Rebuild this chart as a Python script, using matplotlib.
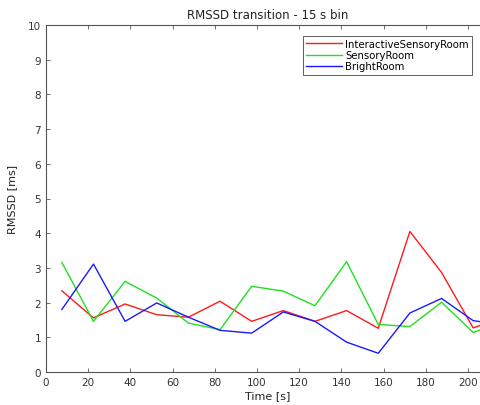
import matplotlib
matplotlib.use("Agg")
import matplotlib.pyplot as plt

time_s = [7.5, 22.5, 37.5, 52.5, 67.5, 82.5, 97.5, 112.5, 127.5, 142.5, 157.5, 172.5, 187.5, 202.5, 217.5]
interactive = [2.34, 1.56, 1.96, 1.65, 1.58, 2.04, 1.46, 1.77, 1.46, 1.77, 1.26, 4.05, 2.87, 1.27, 1.6]
sensory = [3.16, 1.46, 2.61, 2.13, 1.41, 1.22, 2.47, 2.33, 1.91, 3.18, 1.37, 1.31, 2.01, 1.14, 1.45]
bright = [1.80, 3.11, 1.46, 1.99, 1.58, 1.20, 1.12, 1.73, 1.46, 0.86, 0.54, 1.70, 2.12, 1.48, 1.35]
labels = ["InteractiveSensoryRoom", "SensoryRoom", "BrightRoom"]
colors = ["#ff1a1a", "#20e020", "#1a1aff"]

plt.rcParams['font.family'] = ['DejaVu Sans']
fig = plt.figure(figsize=(4.81, 4.06), dpi=100)
W, H = 481, 406
x0, x1 = 46, 489
y0, y1 = 373, 26
ax = fig.add_axes([x0 / W, (H - y0) / H, (x1 - x0) / W, (y0 - y1) / H])

for ys, lab, c in zip([interactive, sensory, bright], labels, colors):
    ax.plot(time_s, ys, color=c, lw=1.0, label=lab)

ax.set_xlim(0, 210)
ax.set_ylim(0, 10)
ax.set_xticks(range(0, 201, 20))
ax.set_yticks(range(0, 11))
axc = "#555555"
for s in ax.spines.values():
    s.set_color(axc)
    s.set_linewidth(0.8)
ax.tick_params(direction='in', top=True, right=True, length=3, width=0.6,
               colors=axc, labelsize=7.5, labelcolor="#333333")
ax.set_title("RMSSD transition - 15 s bin", fontsize=8.5, pad=5, color="#222222")
ax.set_xlabel("Time [s]", fontsize=8, labelpad=2, color="#222222")
ax.set_ylabel("RMSSD [ms]", fontsize=8, labelpad=8, color="#222222")
leg = ax.legend(loc='upper right', bbox_to_anchor=((472 - x0) / (x1 - x0), (y0 - 37) / (y0 - y1)),
                fontsize=7.3, frameon=True, fancybox=False, handlelength=3.6,
                handletextpad=0.3, borderpad=0.3, labelspacing=0.12, borderaxespad=0)
leg.get_frame().set_edgecolor("#333333")
leg.get_frame().set_linewidth(0.7)

fig.savefig("out.png", dpi=100)
